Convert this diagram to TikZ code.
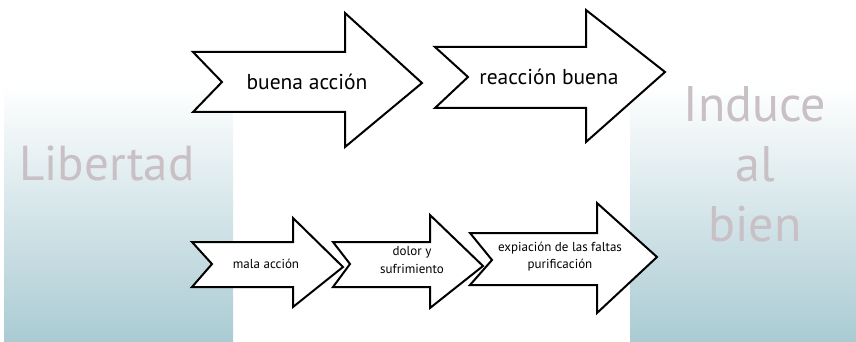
\documentclass[tikz,border=0pt]{standalone}
\usepackage{fontspec}
\setmainfont{PT Sans}
\usepackage{xcolor}

\definecolor{panelblue}{HTML}{AACBD3}
\definecolor{bigtext}{HTML}{C8C0C4}

\tikzset{
  panel/.style={top color=white, middle color=panelblue!55, bottom color=panelblue},
  arrowshape/.style={draw=black, fill=white, line width=2pt, line join=miter},
  bigword/.style={text=bigtext, font=\fontsize{49}{60}\selectfont, align=center},
  biglabel/.style={font=\fontsize{21.5}{24}\selectfont},
  smalllabel/.style={font=\fontsize{13}{18}\selectfont, align=center}
}

\begin{document}
\begin{tikzpicture}[x=1pt, y=-1pt]
	\useasboundingbox (0,0) rectangle (856,342);

	% fondos
	\shade[panel] (4,85) rectangle (233,342);
	\shade[panel] (630,85) rectangle (856,342);

	\node[bigword] (libertad) at (107,163) {Libertad};
	\node[bigword, text width=160pt, font=\fontsize{50}{60}\selectfont] (induce) at (755,164) {Induce\\al\\bien};

	% fila de arriba
	\filldraw[arrowshape] (193,52) -- (345,52) -- (345,13) -- (422,83) -- (345,147) -- (345,112) -- (193,112) -- (222,82) -- cycle;
	\filldraw[arrowshape] (435,47) -- (586,47) -- (586,10) -- (665,72) -- (586,142) -- (586,108) -- (435,108) -- (468,77) -- cycle;

	\node[biglabel] (buena) at (307,82) {buena acción};
	\node[biglabel] (reaccion) at (549,77) {reacción buena};

	% fila de abajo
	\filldraw[arrowshape] (192,242) -- (293,242) -- (293,218) -- (343,267) -- (293,307) -- (293,287) -- (192,287) -- (212,264) -- cycle;
	\filldraw[arrowshape] (333,242) -- (430,242) -- (430,215) -- (483,266) -- (430,308) -- (430,287) -- (333,287) -- (350,264) -- cycle;
	\filldraw[arrowshape] (470,233) -- (597,233) -- (597,203) -- (657,257) -- (597,313) -- (597,285) -- (470,285) -- (492,260) -- cycle;

	\node[smalllabel] (mala) at (266,264) {mala acción};
	\node[smalllabel] (dolor) at (412,260) {dolor y\\sufrimiento};
	\node[smalllabel, font=\fontsize{13}{17}\selectfont] (expiacion) at (560,257) {expiación de las faltas\\purificación};
\end{tikzpicture}
\end{document}
